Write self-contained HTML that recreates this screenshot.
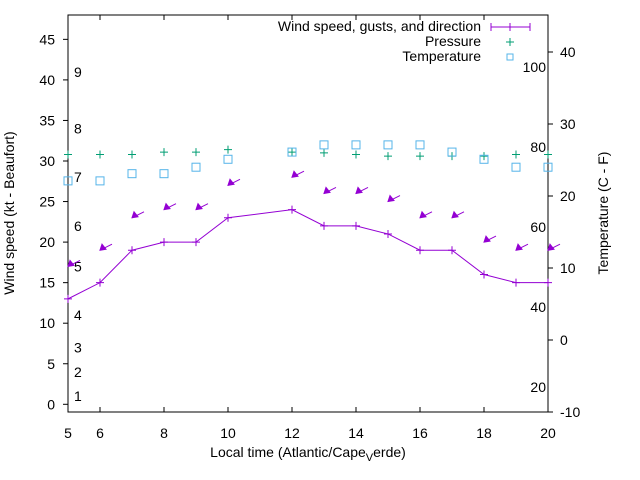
<!DOCTYPE html>
<html><head><meta charset="utf-8"><style>
body{margin:0;background:#fff;}
svg{display:block;font-family:"Liberation Sans",sans-serif;}
</style></head><body>
<svg id="chart" width="640" height="480" viewBox="0 0 640 480">
<rect width="640" height="480" fill="#fff"/>
<g id="axes"></g>
<g id="marks"></g>
<text x="14" y="213" font-size="14" text-anchor="middle" transform="rotate(-90 14 213)">Wind speed (kt - Beaufort)</text>
<text x="608" y="213" font-size="14" text-anchor="middle" transform="rotate(-90 608 213)">Temperature (C - F)</text>
<text x="308" y="457" font-size="14" text-anchor="middle">Local time (Atlantic/Cape<tspan font-size="11" dy="4">V</tspan><tspan dy="-4">erde)</tspan></text>
<g font-size="14">
<text x="481" y="31" text-anchor="end">Wind speed, gusts, and direction</text>
<text x="481" y="46" text-anchor="end">Pressure</text>
<text x="481" y="61" text-anchor="end">Temperature</text>
<g stroke="#9400d3"><line x1="491" y1="27" x2="530" y2="27"/><line x1="491" y1="23" x2="491" y2="31"/><line x1="530" y1="23" x2="530" y2="31"/><line x1="510" y1="23" x2="510" y2="31"/></g>
<g stroke="#009e73"><line x1="506" y1="42" x2="514" y2="42"/><line x1="510" y1="38" x2="510" y2="46"/></g>
<rect x="507" y="54" width="6" height="6" fill="none" stroke="#56b4e9"/>
</g>
</svg>
<script>
const hours=[5,6,7,8,9,10,12,13,14,15,16,17,18,19,20];
const windSpeed=[13,15,19,20,20,23,24,22,22,21,19,19,16,15,15];
const gusts=[17,19,23,24,24,27,28,26,26,25,23,23,20,19,19];
const pressure=[30.8,30.8,30.8,31.1,31.1,31.4,31.1,31.0,30.8,30.6,30.6,30.6,30.6,30.8,30.8];
const temperature=[22.1,22.1,23.1,23.1,24.0,25.1,26.1,27.1,27.1,27.1,27.1,26.1,25.1,24.0,24.0];
const xTicks=[6,8,10,12,14,16,18,20];
const yTicks=[0,5,10,15,20,25,30,35,40,45];
const y2Ticks=[-10,0,10,20,30,40];
const fLabels=[20,40,60,80,100];
const beaufort=[1,2,3,4,5,6,7,8,9];
const beaufortKt=[1,4,7,11,17,22,28,34,41];

const L=68,R=548,T=15,B=412;
const xs=h=>L+(h-5)*(R-L)/15;
const ys=v=>404.3-v*8.11;
const y2s=c=>412-(c+10)*7.2;
const NS='http://www.w3.org/2000/svg';
const axes=document.getElementById('axes'),marks=document.getElementById('marks');
function mk(p,tag,a,txt){const e=document.createElementNS(NS,tag);for(const k in a)e.setAttribute(k,a[k]);if(txt!==undefined)e.textContent=txt;p.appendChild(e);return e;}

let e=mk(axes,'rect',{x:L,y:T,width:R-L,height:B-T,fill:'none',stroke:'#000','stroke-width':1});


mk(axes,'text',{x:L,y:438,'font-size':14,'text-anchor':'middle'},'5');
xTicks.forEach(h=>{
 mk(axes,'line',{x1:xs(h),y1:B,x2:xs(h),y2:B-5,stroke:'#000'});
 mk(axes,'line',{x1:xs(h),y1:T,x2:xs(h),y2:T+5,stroke:'#000'});
 e=mk(axes,'text',{x:xs(h),y:438,'font-size':14,'text-anchor':'middle'},h);
 
 
});
yTicks.forEach(v=>{
 mk(axes,'line',{x1:L-5,y1:ys(v),x2:L,y2:ys(v),stroke:'#000'});
 e=mk(axes,'text',{x:55,y:ys(v)+5,'font-size':14,'text-anchor':'end'},v);
 
 
});
y2Ticks.forEach(v=>{
 mk(axes,'line',{x1:R,y1:y2s(v),x2:R+5,y2:y2s(v),stroke:'#000'});
 e=mk(axes,'text',{x:560,y:y2s(v)+5,'font-size':14},v);
 
 
});
fLabels.forEach(f=>{
 e=mk(axes,'text',{x:546,y:y2s((f-32)*5/9)+4,'font-size':14,'text-anchor':'end'},f);
 
 
});
beaufort.forEach((b,i)=>{
 e=mk(axes,'text',{x:74,y:ys(beaufortKt[i])+5,'font-size':14},b);
 
 
});

// wind line
e=mk(marks,'polyline',{points:hours.map((h,i)=>xs(h)+','+ys(windSpeed[i])).join(' '),fill:'none',stroke:'#9400d3'});


hours.forEach((h,i)=>{
 const x=xs(h),y=ys(windSpeed[i]);
 e=mk(marks,'path',{d:`M${x-4},${y}H${x+4}M${x},${y-4}V${y+4}`,stroke:'#9400d3'});
 
 
 const gx=xs(h),gy=ys(gusts[i]);
 const g=mk(marks,'g',{stroke:'#9400d3',fill:'#9400d3'});
 
 
 mk(g,'line',{x1:gx,y1:gy,x2:gx+12,y2:gy-6});
 mk(g,'polygon',{points:`${gx},${gy} ${gx+2},${gy-6} ${gx+6},${gy-1}`});
 const px=xs(h),py=ys(pressure[i]);
 e=mk(marks,'path',{d:`M${px-4},${py}H${px+4}M${px},${py-4}V${py+4}`,stroke:'#009e73'});
 
 
 e=mk(marks,'rect',{x:xs(h)-4,y:y2s(temperature[i])-4,width:8,height:8,fill:'none',stroke:'#56b4e9'});
 
 
});
</script>
</body></html>
